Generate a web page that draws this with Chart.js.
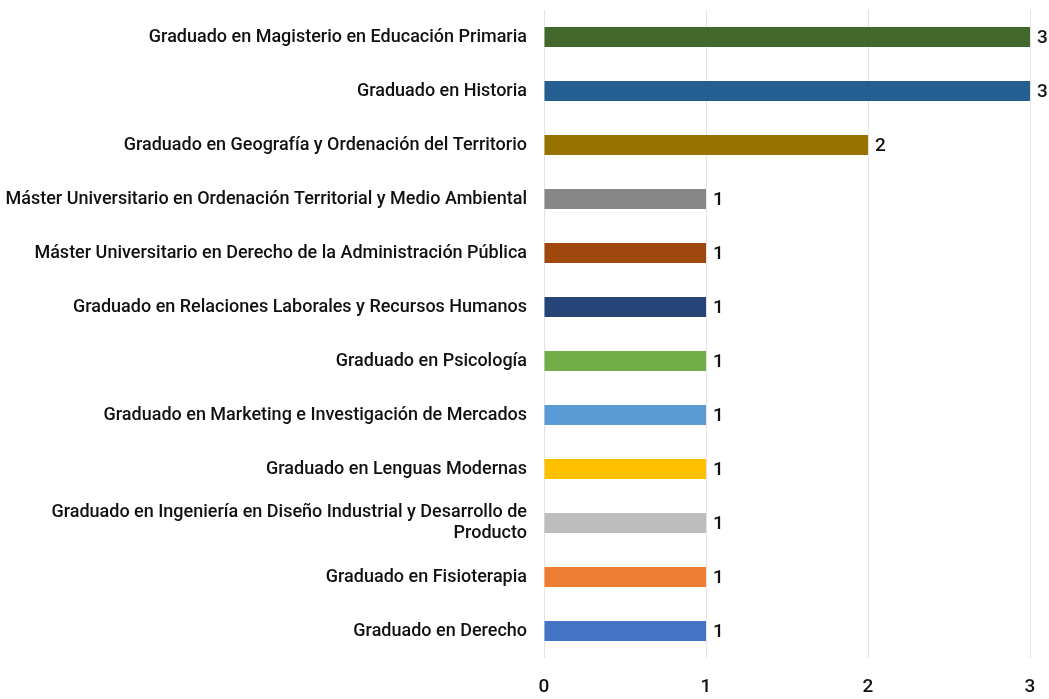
<!DOCTYPE html>
<html lang="es">
<head>
  <meta charset="UTF-8">
  <title>Titulaciones</title>
  <script src="https://cdn.jsdelivr.net/npm/chart.js"></script>
  <style>
    html, body {
      margin: 0;
      padding: 0;
      background: #ffffff;
      overflow: hidden;
    }
    #wrap {
      width: 1049px;
      height: 699px;
    }
  </style>
</head>
<body>
  <div id="wrap"><canvas id="chart"></canvas></div>

  <script>
  const titulaciones = [
    'Graduado en Magisterio en Educación Primaria',
    'Graduado en Historia',
    'Graduado en Geografía y Ordenación del Territorio',
    'Máster Universitario en Ordenación Territorial y Medio Ambiental',
    'Máster Universitario en Derecho de la Administración Pública',
    'Graduado en Relaciones Laborales y Recursos Humanos',
    'Graduado en Psicología',
    'Graduado en Marketing e Investigación de Mercados',
    'Graduado en Lenguas Modernas',
    ['Graduado en Ingeniería en Diseño Industrial y Desarrollo de', 'Producto'],
    'Graduado en Fisioterapia',
    'Graduado en Derecho'
  ];
  const alumnos = [3, 3, 2, 1, 1, 1, 1, 1, 1, 1, 1, 1];
  const colores = [
    '#43682B', '#255E91', '#997300', '#878787', '#9E480E', '#264478',
    '#70AD47', '#5B9BD5', '#FFC000', '#BDBDBD', '#ED7D31', '#4472C4'
  ];
  const ticksX = [0, 1, 2, 3];

  const fuente = "Roboto, 'Noto Sans', sans-serif";

  // etiquetas de valor a la derecha de cada barra
  const etiquetas = {
    id: 'etiquetas',
    afterDatasetsDraw(chart) {
      const ctx = chart.ctx;
      const meta = chart.getDatasetMeta(0);
      ctx.save();
      ctx.font = '500 19px ' + fuente;
      ctx.fillStyle = '#111111';
      ctx.textAlign = 'left';
      ctx.textBaseline = 'middle';
      meta.data.forEach((bar, i) => {
        ctx.fillText(String(alumnos[i]), bar.x + 7, bar.y + 1);
      });
      ctx.restore();
    }
  };

  function sinMargen(axis) {
    axis.paddingTop = 0;
    axis.paddingBottom = 0;
    axis.paddingLeft = 0;
    axis.paddingRight = 0;
  }

  new Chart(document.getElementById('chart'), {
    type: 'bar',
    data: {
      labels: titulaciones,
      datasets: [{
        data: alumnos,
        backgroundColor: colores,
        barPercentage: 0.74,
        categoryPercentage: 0.5
      }]
    },
    options: {
      indexAxis: 'y',
      responsive: true,
      maintainAspectRatio: false,
      animation: false,
      layout: { padding: { left: 0, right: 19, top: 10, bottom: 0 } },
      plugins: {
        legend: { display: false },
        tooltip: { enabled: false }
      },
      scales: {
        x: {
          min: 0,
          max: 3,
          afterBuildTicks: axis => { axis.ticks = ticksX.map(v => ({ value: v })); },
          afterFit: axis => { axis.height = 41; sinMargen(axis); },
          grid: { color: '#e3e3e3', drawTicks: false },
          border: { display: false },
          ticks: {
            color: '#111111',
            padding: 18,
            font: { family: fuente, size: 19, weight: '500' }
          }
        },
        y: {
          afterFit: axis => { axis.width = 544; sinMargen(axis); },
          grid: { display: false, drawTicks: false, tickLength: 0 },
          border: { display: false },
          ticks: {
            color: '#111111',
            padding: 17,
            font: { family: fuente, size: 18, weight: '500', lineHeight: 1.15 }
          }
        }
      }
    },
    plugins: [etiquetas]
  });
  </script>
</body>
</html>
